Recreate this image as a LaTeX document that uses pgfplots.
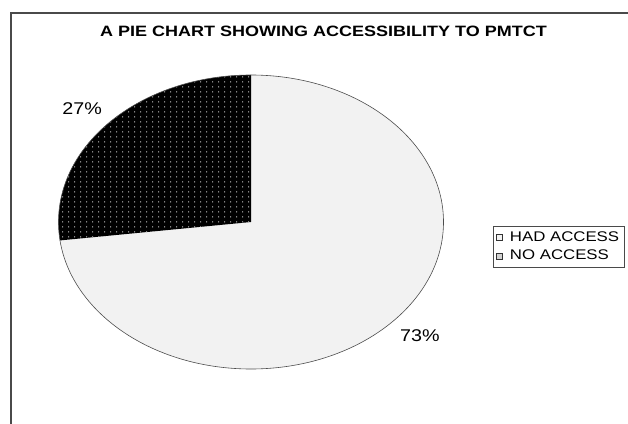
\documentclass[border=0pt]{standalone}
\usepackage{fontspec}
\setmainfont{Liberation Sans}
\usepackage{pgfplots}
\pgfplotsset{compat=1.18}
\usepackage{pgfplotstable}
\usetikzlibrary{patterns.meta}
\definecolor{lightfill}{HTML}{F2F2F2}
\definecolor{framecol}{HTML}{4A4A4A}
\pgfdeclarepattern{
  name=piedots, type=uncolored,
  bottom left={\pgfpoint{0bp}{0bp}},
  top right={\pgfpoint{6bp}{4.5bp}},
  tile size={\pgfpoint{6bp}{4.5bp}},
  code={\pgfpathrectangle{\pgfpoint{2.5bp}{1.75bp}}{\pgfpoint{1.1bp}{1.1bp}}\pgfusepath{fill}}
}
\pgfplotstableread{
label value
{HAD ACCESS} 73
{NO ACCESS} 27
}\piedata
\begin{document}%
\begin{tikzpicture}
\pgfplotstablegetelem{0}{value}\of\piedata \let\vHad\pgfplotsretval
\pgfplotstablegetelem{1}{value}\of\piedata \let\vNo\pgfplotsretval
\pgfmathsetmacro\total{\vHad+\vNo}
\pgfmathsetmacro\aNo{90+360*\vNo/\total}
\pgfmathsetmacro\midNo{90+180*\vNo/\total}
\pgfmathsetmacro\midHad{\aNo+180*\vHad/\total}
\path[use as bounding box] (0bp,0bp) rectangle (628bp,424bp);
\draw[line width=1.3bp, framecol] (11bp,-5bp) -- (11bp,411bp) -- (635bp,411bp);
\node[anchor=base, inner sep=0pt] at (323.5bp,387bp)
  {\fontsize{15bp}{18bp}\selectfont\bfseries\scalebox{1.2}[1]{A PIE CHART SHOWING ACCESSIBILITY TO PMTCT}};
\begin{axis}[
  hide axis, scale only axis,
  width=385bp, height=294bp,
  xmin=-1, xmax=1, ymin=-1, ymax=1,
  at={(251bp,202bp)}, anchor=origin,
  clip=false,
  legend image code/.code={\draw[#1, line width=0.6bp] (0bp,-3bp) rectangle (6bp,3bp);},
  legend cell align=left,
  legend style={at={(1.1286,0.486)}, anchor=north west,
    draw=framecol, line width=0.7bp, fill=white,
    inner xsep=3bp, inner ysep=3.5bp, row sep=3bp,
    font=\fontsize{14bp}{16bp}\selectfont,
    /tikz/every odd column/.append style={column sep=5bp},
  },
]
\addlegendimage{draw=black!80, fill=lightfill}
\addlegendentry{\scalebox{1.2}[1]{HAD ACCESS}}
\addlegendimage{draw=black!80, fill=gray!35}
\addlegendentry{\scalebox{1.2}[1]{NO ACCESS}}
% light slice
\fill[lightfill] (axis cs:0,0) -- (axis cs:{cos(\aNo)},{sin(\aNo)})
  arc[start angle=\aNo, end angle=450, x radius=192.5bp, y radius=147bp] -- cycle;
% dark slice
\fill[black, postaction={pattern=piedots, pattern color=gray!40}]
  (axis cs:0,0) -- (axis cs:0,1)
  arc[start angle=90, end angle=\aNo, x radius=192.5bp, y radius=147bp] -- cycle;
% outline
\draw[black!70, line width=0.6bp] (axis cs:1,0)
  arc[start angle=0, end angle=360, x radius=192.5bp, y radius=147bp];
\node[inner sep=0pt, font=\fontsize{17bp}{20bp}\selectfont]
  at (axis cs:{1.17*cos(\midNo)},{1.17*sin(\midNo)}) {\scalebox{1.16}[1]{\vNo\%}};
\node[inner sep=0pt, font=\fontsize{17bp}{20bp}\selectfont]
  at (axis cs:{1.17*cos(\midHad)},{1.17*sin(\midHad)}) {\scalebox{1.16}[1]{\vHad\%}};
\end{axis}
\end{tikzpicture}%
\end{document}
